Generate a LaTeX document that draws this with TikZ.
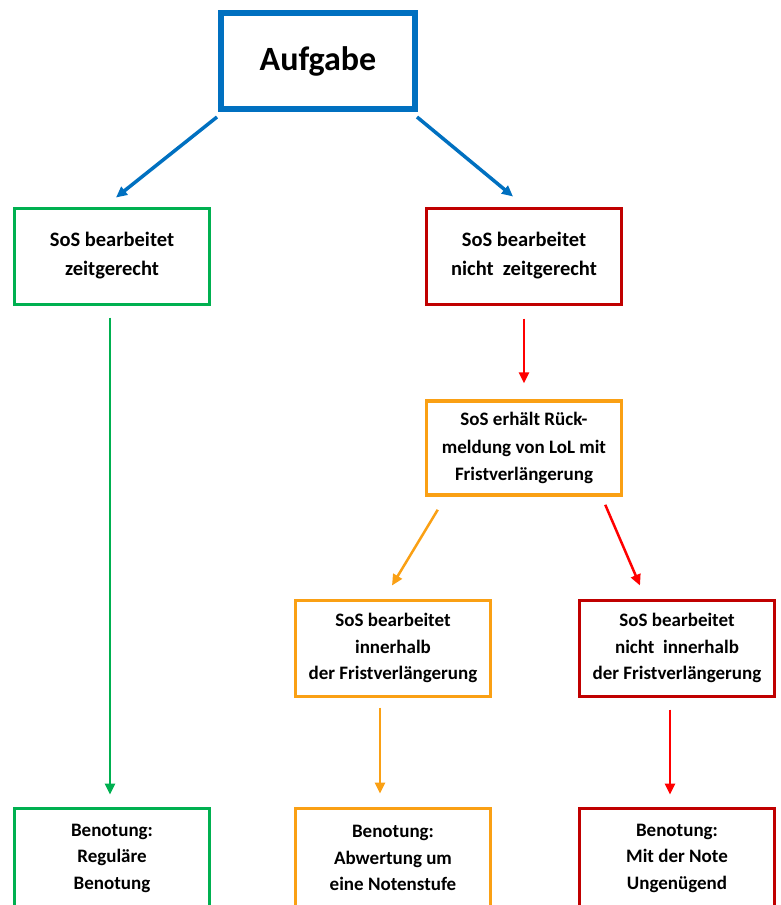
\documentclass[tikz,border=0pt]{standalone}
\usepackage{fontspec}
\setmainfont{Carlito}
\usetikzlibrary{arrows.meta,calc}
\definecolor{cblue}{RGB}{0,112,192}
\definecolor{cgreen}{RGB}{0,176,80}
\definecolor{cdred}{RGB}{192,0,0}
\definecolor{cred}{RGB}{255,0,0}
\definecolor{corange}{RGB}{250,160,20}
\begin{document}
\begin{tikzpicture}[x=1pt,y=-1pt,
  box/.style={draw, line width=3pt, minimum width=195pt, minimum height=96pt,
    align=center, inner sep=0pt, font=\bfseries\fontsize{19}{26.5}\selectfont},
  bigtext/.style={font=\bfseries\fontsize{20.5}{29}\selectfont},
  arr/.style={line width=2.5pt, -{Triangle[length=11pt,width=10pt]}}]
\useasboundingbox (0,0) rectangle (781,905);
\node[box, draw=cblue, line width=6pt, minimum width=194pt, minimum height=96pt,
  font=\bfseries\fontsize{34}{40}\selectfont] (auf) at (318,61) {Aufgabe};
\node[box, bigtext, draw=cgreen] (g1) at (112,256) {SoS bearbeitet\\zeitgerecht};
\node[box, bigtext, draw=cdred] (r1) at (524,256) {SoS bearbeitet\\nicht\ \ zeitgerecht};
\node[box, draw=corange, line width=3.5pt, minimum height=94pt,
  font=\bfseries\fontsize{19}{27.5}\selectfont] (o1) at (524,448)
  {SoS erhält Rück-\\meldung von LoL mit\\Fristverlängerung};
\node[box, draw=corange] (o2) at (393,648) {SoS bearbeitet\\innerhalb\\der Fristverlängerung};
\node[box, draw=cdred] (r2) at (677,648) {SoS bearbeitet\\nicht\ \ innerhalb\\der Fristverlängerung};
\node[box, draw=cgreen, minimum height=100pt] (g3) at (112,858) {Benotung:\\Reguläre\\Benotung};
\node[box, draw=corange, minimum height=100pt] (o3) at (393,858) {Benotung:\\Abwertung um\\eine Notenstufe};
\node[box, draw=cdred, minimum height=100pt] (r3) at (677,858) {Benotung:\\Mit der Note\\Ungenügend};
\draw[arr, cblue, line width=3.5pt] ($(auf.south west)+(-1,5)$) -- ($(g1.north)+(4,-9)$);
\draw[arr, cblue, line width=3.5pt] ($(auf.south east)+(-1,5)$) -- ($(r1.north)+(-11,-10)$);
\draw[arr, cred] ($(r1.south)+(0,13)$) -- ($(o1.north)+(0,-16)$);
\draw[arr, corange] ($(o1.south west)+(13,13)$) -- ($(o2.north)+(-1,-13)$);
\draw[arr, cred] ($(o1.south east)+(-18,8)$) -- ($(r2.north)+(-37,-13)$);
\draw[arr, cgreen] ($(g1.south)+(-2,12)$) -- ($(g3.north)+(-2,-12)$);
\draw[arr, corange] ($(o2.south)+(-13,10)$) -- ($(o3.north)+(-13,-13)$);
\draw[arr, cred] ($(r2.south)+(-7,12)$) -- ($(r3.north)+(-7,-12)$);
\end{tikzpicture}
\end{document}
